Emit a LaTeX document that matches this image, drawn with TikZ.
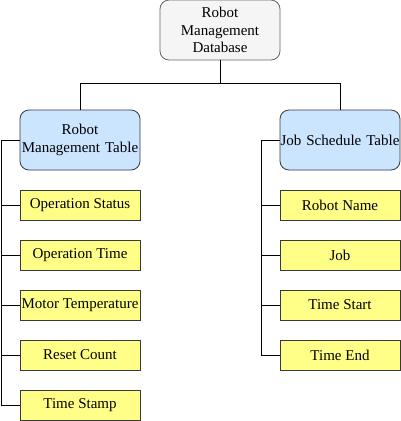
\documentclass[tikz,border=0pt]{standalone}
\usepackage{fontspec}
\newfontfamily\tnr{Liberation Serif}
\definecolor{rootfill}{HTML}{F5F5F5}
\definecolor{rootdraw}{HTML}{666666}
\definecolor{tabfill}{HTML}{CCE5FF}
\definecolor{boxdraw}{HTML}{36393D}
\definecolor{yfill}{HTML}{FFFF88}
\begin{document}
\begin{tikzpicture}[x=1pt,y=-1pt,
  every node/.style={font=\tnr\fontsize{15}{17.5}\selectfont, align=center, inner sep=0pt},
  rootbox/.style={draw=rootdraw, fill=rootfill, rounded corners=9pt, minimum width=120pt, minimum height=60pt, text width=110pt, line width=0.8pt},
  tabbox/.style={draw=boxdraw, fill=tabfill, rounded corners=9pt, minimum width=120pt, minimum height=60pt, text width=120pt, line width=0.8pt},
  fieldbox/.style={draw=boxdraw, fill=yfill, minimum width=120pt, minimum height=30pt, line width=0.8pt},
  conn/.style={draw=black, line width=0.8pt}]
\useasboundingbox (0,0) rectangle (401,421);
\node[rootbox] (root) at (220,30) {Robot\\Management\\Database};
\node[tabbox] (rmt) at (80,140) {Robot\\Management Table};
\node[tabbox] (jst) at (340,140) {Job Schedule Table};
\node[fieldbox] (os) at (80,205) {Operation Status};
\node[fieldbox] (ot) at (80,255) {Operation Time};
\node[fieldbox] (mt) at (80,305) {Motor Temperature};
\node[fieldbox] (rc) at (80,355) {Reset Count};
\node[fieldbox] (ts) at (80,405) {Time Stamp};
\node[fieldbox] (rn) at (340,205) {Robot Name};
\node[fieldbox] (jb) at (340,255) {Job};
\node[fieldbox] (tst) at (340,305) {Time Start};
\node[fieldbox] (te) at (340,355) {Time End};
\coordinate (lbus) at (1.5,0);
\coordinate (rbus) at (261.5,0);
\draw[conn] (root.south) -- ++(0,23) -| (rmt.north);
\draw[conn] (root.south) -- ++(0,23) -| (jst.north);
\foreach \n in {os,ot,mt,rc,ts}{
  \draw[conn] (rmt.west) -| (lbus |- \n.west) -- (\n.west);
}
\foreach \n in {rn,jb,tst,te}{
  \draw[conn] (jst.west) -| (rbus |- \n.west) -- (\n.west);
}
\end{tikzpicture}
\end{document}
